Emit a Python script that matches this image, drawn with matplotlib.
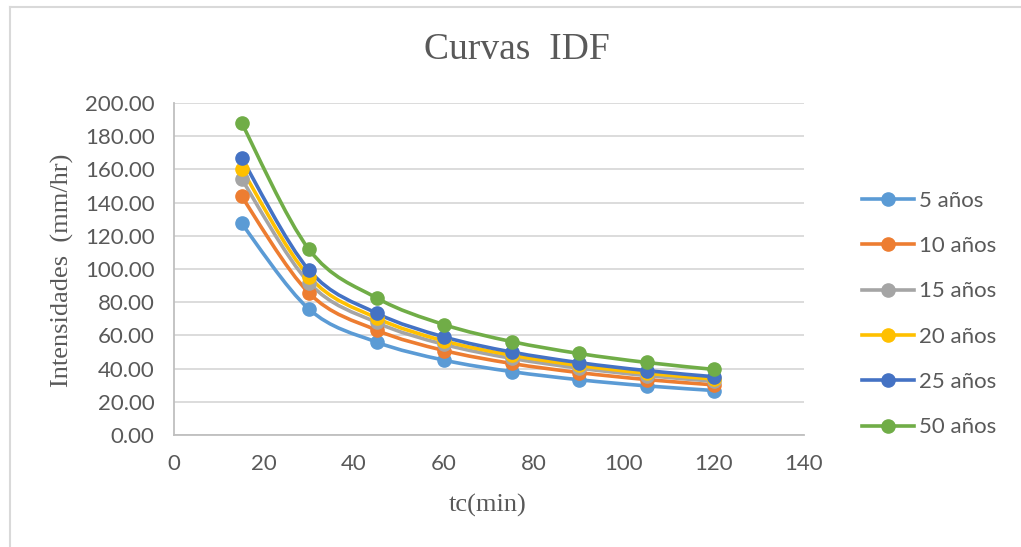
import matplotlib
matplotlib.use("Agg")
import matplotlib.pyplot as plt
from matplotlib.path import Path
from matplotlib.patches import PathPatch
from matplotlib.lines import Line2D
import numpy as np

# ---- data ----
tc_min = [15, 30, 45, 60, 75, 90, 105, 120]
series_labels = ["5 años", "10 años", "15 años", "20 años", "25 años", "50 años"]
i_5 = [127.5, 75.8, 56.0, 45.1, 38.2, 33.3, 29.6, 26.8]
i_10 = [143.8, 85.5, 63.2, 50.9, 43.1, 37.6, 33.4, 30.2]
i_15 = [154.3, 91.7, 67.8, 54.6, 46.2, 40.3, 35.8, 32.4]
i_20 = [160.4, 95.4, 70.5, 56.7, 48.1, 41.9, 37.2, 33.7]
i_25 = [167.0, 99.3, 73.4, 59.1, 50.0, 43.6, 38.8, 35.1]
i_50 = [188.1, 111.8, 82.6, 66.5, 56.3, 49.1, 43.7, 39.5]
y_ticks = [0, 20, 40, 60, 80, 100, 120, 140, 160, 180, 200]
x_ticks = [0, 20, 40, 60, 80, 100, 120, 140]

colors = ["#5B9BD5", "#ED7D31", "#A5A5A5", "#FFC000", "#4472C4", "#70AD47"]
series = [i_5, i_10, i_15, i_20, i_25, i_50]

TXT = "#595959"
SANS = ["Lato", "DejaVu Sans"]
SERIF = ["Liberation Serif", "DejaVu Serif"]

W, H = 1021, 547
fig = plt.figure(figsize=(W / 100, H / 100), dpi=100)

# chart border (only left and top edges are visible in the crop)
fig.add_artist(Line2D([10 / W, 10 / W], [0, 1 - 7 / H], transform=fig.transFigure,
                      color="#d9d9d9", lw=1.5))
fig.add_artist(Line2D([10 / W, 1], [1 - 7 / H, 1 - 7 / H], transform=fig.transFigure,
                      color="#d9d9d9", lw=1.5))

x0, x1, yt, yb = 174, 804, 103, 435
ax = fig.add_axes([x0 / W, 1 - yb / H, (x1 - x0) / W, (yb - yt) / H])
ax.set_xlim(0, 140)
ax.set_ylim(0, 200)
ax.set_xticks(x_ticks)
ax.set_yticks(y_ticks)
ax.set_yticklabels([f"{v:.2f}" for v in y_ticks])
ax.yaxis.grid(True, color="#d9d9d9", lw=1.3)
ax.set_axisbelow(True)
for s in ["top", "right"]:
    ax.spines[s].set_visible(False)
for s in ["left", "bottom"]:
    ax.spines[s].set_color("#bfbfbf")
    ax.spines[s].set_linewidth(1.3)
ax.tick_params(axis="both", length=0, labelcolor=TXT, labelsize=16)
ax.tick_params(axis="y", pad=14)
ax.tick_params(axis="x", pad=14)
for lab in ax.get_xticklabels() + ax.get_yticklabels():
    lab.set_family(SANS)


def smooth_path(xs, ys):
    pts = np.column_stack([xs, ys]).astype(float)
    n = len(pts)
    verts = [pts[0]]
    codes = [Path.MOVETO]
    for i in range(n - 1):
        p0 = pts[i - 1] if i > 0 else pts[i]
        p1 = pts[i]
        p2 = pts[i + 1]
        p3 = pts[i + 2] if i + 2 < n else pts[i + 1]
        c1 = p1 + (p2 - p0) / 6.0
        c2 = p2 - (p3 - p1) / 6.0
        verts += [c1, c2, p2]
        codes += [Path.CURVE4] * 3
    return Path(verts, codes)


handles = []
for ys, c, lab in zip(series, colors, series_labels):
    patch = PathPatch(smooth_path(tc_min, ys), fill=False, edgecolor=c, lw=2.6,
                      capstyle="round", joinstyle="round", zorder=3)
    ax.add_patch(patch)
    ax.plot(tc_min, ys, linestyle="none", marker="o", ms=9.5, color=c, zorder=4)
    handles.append(Line2D([], [], color=c, lw=2.6, marker="o", ms=9.5))

leg = fig.legend(handles, series_labels, loc="center left",
                 bbox_to_anchor=(862 / W, 1 - 314 / H), frameon=False,
                 handlelength=2.35, handletextpad=0.2, labelspacing=1.14,
                 borderpad=0, borderaxespad=0, prop={"family": SANS, "size": 16})
for t in leg.get_texts():
    t.set_color(TXT)

fig.text(517 / W, 1 - 50 / H, "Curvas  IDF", ha="center", va="center",
         family=SERIF, fontsize=27, color=TXT)
fig.text(62 / W, 1 - 270 / H, "Intensidades  (mm/hr)", ha="center", va="center",
         rotation=90, family=SERIF, fontsize=19, color=TXT)
fig.text(488 / W, 1 - 505 / H, "tc(min)", ha="center", va="center",
         family=SERIF, fontsize=19, color=TXT)

fig.savefig("out.png", dpi=100)
